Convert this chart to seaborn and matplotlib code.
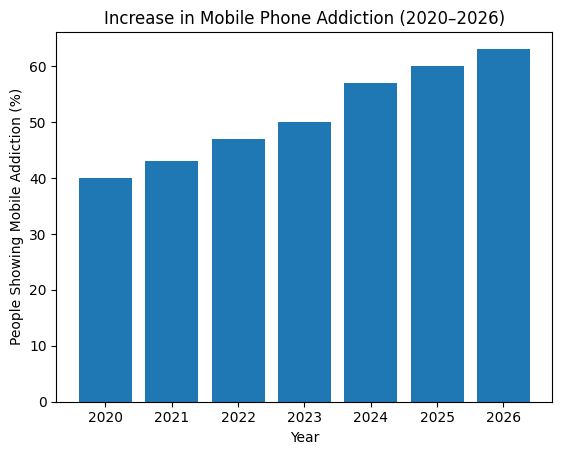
import matplotlib
matplotlib.use("Agg")
import matplotlib.pyplot as plt
import seaborn as sns

# data
years = ["2020", "2021", "2022", "2023", "2024", "2025", "2026"]
addiction_pct = [40, 43, 47, 50, 57, 60, 63]

plt.rcParams["font.family"] = ["DejaVu Sans"]

fig, ax = plt.subplots(figsize=(5.62, 4.55), dpi=100)
fig.subplots_adjust(left=0.1004, right=0.983, top=0.930, bottom=0.117)

sns.barplot(x=years, y=addiction_pct, color="#1f77b4", saturation=1,
            width=0.8, linewidth=0, ax=ax)

ax.set_title("Increase in Mobile Phone Addiction (2020–2026)")
ax.set_xlabel("Year")
ax.set_ylabel("People Showing Mobile Addiction (%)")
ax.set_xlim(-0.74, 6.74)
ax.set_ylim(0, 66.15)

fig.savefig("out.png", dpi=100)
